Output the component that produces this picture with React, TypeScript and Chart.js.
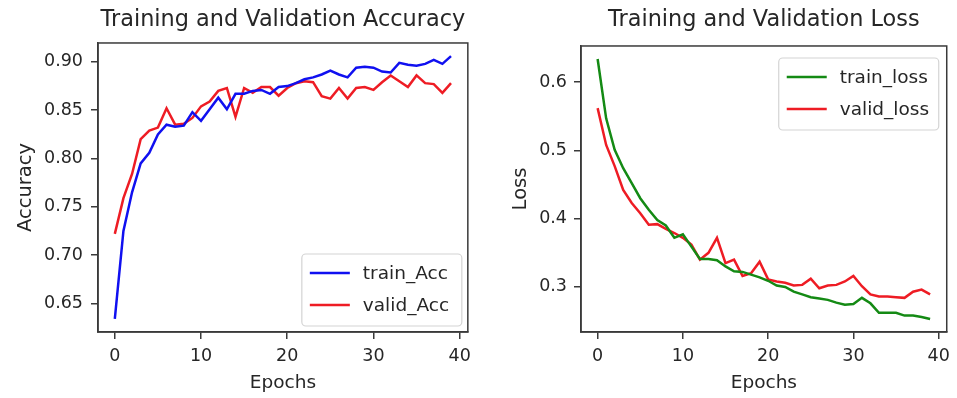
import React, { useEffect, useRef } from "react";
import { Chart, registerables } from "chart.js";

Chart.register(...registerables);

// ---- data ----
const epochs = [0, 1, 2, 3, 4, 5, 6, 7, 8, 9, 10, 11, 12, 13, 14, 15, 16, 17, 18, 19, 20, 21, 22, 23, 24, 25, 26, 27, 28, 29, 30, 31, 32, 33, 34, 35, 36, 37, 38, 39];

const trainAcc = [0.634, 0.725, 0.765, 0.795, 0.806, 0.825, 0.835, 0.833, 0.834, 0.848, 0.839, 0.851, 0.863, 0.851, 0.867, 0.867, 0.870, 0.871, 0.867, 0.874, 0.875, 0.878, 0.882, 0.884, 0.887, 0.891, 0.887, 0.884, 0.894, 0.895, 0.894, 0.890, 0.889, 0.899, 0.897, 0.896, 0.898, 0.902, 0.898, 0.906];
const validAcc = [0.722, 0.759, 0.784, 0.820, 0.829, 0.832, 0.852, 0.835, 0.836, 0.842, 0.854, 0.859, 0.870, 0.873, 0.843, 0.873, 0.868, 0.874, 0.874, 0.865, 0.873, 0.878, 0.880, 0.879, 0.8645, 0.862, 0.873, 0.862, 0.873, 0.874, 0.871, 0.879, 0.886, 0.880, 0.874, 0.886, 0.878, 0.877, 0.868, 0.878];

const trainLoss = [0.634, 0.547, 0.501, 0.474, 0.452, 0.430, 0.413, 0.398, 0.390, 0.372, 0.377, 0.359, 0.341, 0.341, 0.339, 0.330, 0.323, 0.322, 0.318, 0.314, 0.309, 0.302, 0.300, 0.293, 0.289, 0.285, 0.283, 0.281, 0.277, 0.274, 0.275, 0.284, 0.276, 0.262, 0.262, 0.262, 0.258, 0.258, 0.256, 0.253];
const validLoss = [0.562, 0.508, 0.477, 0.442, 0.423, 0.408, 0.391, 0.392, 0.385, 0.379, 0.372, 0.362, 0.340, 0.350, 0.372, 0.335, 0.340, 0.316, 0.320, 0.337, 0.311, 0.308, 0.306, 0.302, 0.303, 0.312, 0.298, 0.302, 0.303, 0.308, 0.316, 0.301, 0.289, 0.286, 0.286, 0.285, 0.284, 0.293, 0.296, 0.289];

const xTicks = [0, 10, 20, 30, 40];
const accTicks = [0.65, 0.70, 0.75, 0.80, 0.85, 0.90];
const lossTicks = [0.3, 0.4, 0.5, 0.6];

// ---- style ----
const FONT = "'DejaVu Sans', sans-serif";
const TEXT = "#262626";
const SPINE = "#3a3a3a";
const BLUE = "#1010f0";
const RED = "#ee1c24";
const GREEN = "#148a14";

function withMargin(arrs: number[][]) {
  const all = arrs.flat();
  const lo = Math.min(...all);
  const hi = Math.max(...all);
  const m = (hi - lo) * 0.05;
  return { min: lo - m, max: hi + m };
}

const xRange = withMargin([epochs]);

const framePlugin = {
  id: "frame",
  afterDraw(chart: any) {
    const { ctx, chartArea: a } = chart;
    ctx.save();
    ctx.strokeStyle = SPINE;
    ctx.lineWidth = 1.5;
    ctx.strokeRect(a.left, a.top, a.right - a.left, a.bottom - a.top);
    ctx.restore();
  },
};

const boxLegendPlugin = {
  id: "boxLegend",
  afterDraw(chart: any, _args: any, opts: any) {
    const { ctx, chartArea: a } = chart;
    const w = 160;
    const h = 72;
    const left = a.right - opts.insetX - w;
    const top = opts.corner === "br" ? a.bottom - opts.insetY - h : a.top + opts.insetY;
    ctx.save();
    ctx.fillStyle = "rgba(255,255,255,0.85)";
    ctx.strokeStyle = "#d4d4d4";
    ctx.lineWidth = 1.2;
    ctx.beginPath();
    (ctx as any).roundRect(left, top, w, h, 4);
    ctx.fill();
    ctx.stroke();
    chart.data.datasets.forEach((ds: any, i: number) => {
      const y = top + 19 + i * 32;
      ctx.strokeStyle = ds.borderColor;
      ctx.lineWidth = 2.5;
      ctx.beginPath();
      ctx.moveTo(left + 8, y);
      ctx.lineTo(left + 48, y);
      ctx.stroke();
      ctx.fillStyle = TEXT;
      ctx.font = `18.5px ${FONT}`;
      ctx.textBaseline = "middle";
      ctx.textAlign = "left";
      ctx.fillText(ds.label, left + 61, y + 1);
    });
    ctx.restore();
  },
};

function makeConfig(opts: {
  title: string;
  yLabel: string;
  yTicks: number[];
  decimals: number;
  series: { label: string; data: number[]; color: string }[];
  titleBottom: number;
  yWidth: number;
  yTickPad: number;
  yTitleTop: number;
  padRight: number;
  legend: { corner: string; insetX: number; insetY: number };
}) {
  const yr = withMargin(opts.series.map((s) => s.data));
  return {
    type: "line" as const,
    data: {
      datasets: opts.series.map((s) => ({
        label: s.label,
        data: s.data.map((v, i) => ({ x: epochs[i], y: v })),
        borderColor: s.color,
        backgroundColor: s.color,
        borderWidth: 2.5,
        pointRadius: 0,
        tension: 0,
      })),
    },
    options: {
      responsive: false,
      animation: false as const,
      devicePixelRatio: 1,
      layout: { padding: { left: 0, right: opts.padRight, top: 0, bottom: 0 } },
      plugins: {
        legend: { display: false },
        tooltip: { enabled: false },
        title: {
          display: true,
          text: opts.title,
          fullSize: false,
          color: TEXT,
          font: { family: FONT, size: 22.4, weight: "normal" as const, lineHeight: 1.2 },
          padding: { top: 7, bottom: opts.titleBottom },
        },
        boxLegend: opts.legend,
      },
      scales: {
        x: {
          type: "linear" as const,
          min: xRange.min,
          max: xRange.max,
          afterBuildTicks: (s: any) => {
            s.ticks = xTicks.map((v) => ({ value: v }));
          },
          afterFit: (s: any) => {
            s.height = 66;
          },
          ticks: {
            color: TEXT,
            font: { family: FONT, size: 17.5 },
            padding: 7,
            maxRotation: 0,
            callback: (v: any) => String(v),
          },
          grid: { drawOnChartArea: false, tickLength: 7, color: SPINE, lineWidth: 1.5 },
          border: { display: true, color: SPINE, width: 1.5 },
          title: {
            display: true,
            text: "Epochs",
            color: TEXT,
            font: { family: FONT, size: 18.5 },
            padding: { top: 0, bottom: 4 },
          },
        },
        y: {
          type: "linear" as const,
          min: yr.min,
          max: yr.max,
          afterBuildTicks: (s: any) => {
            s.ticks = opts.yTicks.map((v) => ({ value: v }));
          },
          afterFit: (s: any) => {
            s.width = opts.yWidth;
          },
          ticks: {
            color: TEXT,
            font: { family: FONT, size: 17.5 },
            padding: opts.yTickPad,
            callback: (v: any) => Number(v).toFixed(opts.decimals),
          },
          grid: { drawOnChartArea: false, tickLength: 7, color: SPINE, lineWidth: 1.5 },
          border: { display: true, color: SPINE, width: 1.5 },
          title: {
            display: true,
            text: opts.yLabel,
            color: TEXT,
            font: { family: FONT, size: 19.5 },
            padding: { top: opts.yTitleTop, bottom: 0 },
          },
        },
      },
    },
    plugins: [framePlugin, boxLegendPlugin],
  };
}

function LineChart({ config, width, height }: { config: any; width: number; height: number }) {
  const ref = useRef<HTMLCanvasElement | null>(null);
  useEffect(() => {
    if (!ref.current) return;
    const chart = new Chart(ref.current, config);
    return () => chart.destroy();
  }, [config]);
  return <canvas ref={ref} width={width} height={height} style={{ width, height, display: "block" }} />;
}

const accConfig = makeConfig({
  title: "Training and Validation Accuracy",
  yLabel: "Accuracy",
  yTicks: accTicks,
  decimals: 2,
  series: [
    { label: "train_Acc", data: trainAcc, color: BLUE },
    { label: "valid_Acc", data: validAcc, color: RED },
  ],
  titleBottom: 9.1,
  yWidth: 98,
  yTickPad: 8,
  yTitleTop: 14,
  padRight: 8,
  legend: { corner: "br", insetX: 6, insetY: 6 },
});

const lossConfig = makeConfig({
  title: "Training and Validation Loss",
  yLabel: "Loss",
  yTicks: lossTicks,
  decimals: 1,
  series: [
    { label: "train_loss", data: trainLoss, color: GREEN },
    { label: "valid_loss", data: validLoss, color: RED },
  ],
  titleBottom: 12.1,
  yWidth: 103,
  yTickPad: 7,
  yTitleTop: 31.5,
  padRight: 7,
  legend: { corner: "tr", insetX: 8, insetY: 12 },
});

export default function App() {
  return (
    <div style={{ position: "fixed", left: 0, top: 0, width: 957, height: 398, background: "#fff" }}>
      <div style={{ position: "absolute", left: 0, top: 0 }}>
        <LineChart config={accConfig} width={478} height={398} />
      </div>
      <div style={{ position: "absolute", left: 478, top: 0 }}>
        <LineChart config={lossConfig} width={479} height={398} />
      </div>
    </div>
  );
}
